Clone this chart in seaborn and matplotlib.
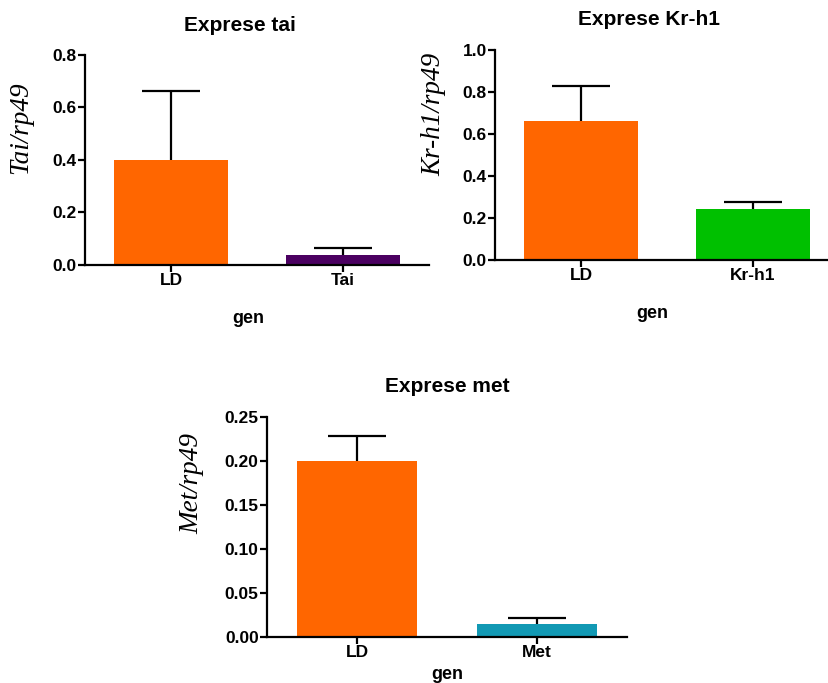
import matplotlib
matplotlib.use("Agg")
import matplotlib.pyplot as plt
import seaborn as sns
import pandas as pd
import numpy as np

# Data
tai_genes = ["LD", "Tai"]
tai_means = [0.40, 0.038]
tai_err = [0.262, 0.027]

kr_genes = ["LD", "Kr-h1"]
kr_means = [0.663, 0.243]
kr_err = [0.167, 0.035]

met_genes = ["LD", "Met"]
met_means = [0.200, 0.0142]
met_err = [0.029, 0.0068]

sns.set_theme(style="ticks")
plt.rcParams['font.family'] = ['Liberation Sans', 'DejaVu Sans']
plt.rcParams['text.color'] = 'black'

W, H = 829, 683
fig = plt.figure(figsize=(W / 100, H / 100), dpi=100)

def px_axes(left, right, bottom, top):
    return fig.add_axes([left / W, 1 - bottom / H, (right - left) / W, (bottom - top) / H])

panels = [
    dict(rect=(85, 429, 265, 55), genes=tai_genes, means=tai_means, err=tai_err,
         colors=["#FF6600", "#4B0061"], title="Exprese tai", ylabel="Tai/rp49",
         ylim=(0, 0.8), yticks=[0.0, 0.2, 0.4, 0.6, 0.8], fmt="{:.1f}",
         title_xy=(0.45, 1.114), xlab_xy=(0.474, -0.213), ylab_xy=(-0.150, 0.652)),
    dict(rect=(495, 839, 260, 50), genes=kr_genes, means=kr_means, err=kr_err,
         colors=["#FF6600", "#00C000"], title="Exprese Kr-h1", ylabel="Kr-h1/rp49",
         ylim=(0, 1.0), yticks=[0.0, 0.2, 0.4, 0.6, 0.8, 1.0], fmt="{:.1f}",
         title_xy=(0.448, 1.119), xlab_xy=(0.456, -0.213), ylab_xy=(-0.142, 0.695)),
    dict(rect=(267, 627, 636.7, 417.3), genes=met_genes, means=met_means, err=met_err,
         colors=["#FF6600", "#1299B4"], title="Exprese met", ylabel="Met/rp49",
         ylim=(0, 0.25), yticks=[0.0, 0.05, 0.10, 0.15, 0.20, 0.25], fmt="{:.2f}",
         title_xy=(0.5, 1.114), xlab_xy=(0.5, -0.135), ylab_xy=(-0.175, 0.697)),
]

for p in panels:
    l, r, b, t = p["rect"]
    ax = px_axes(l, r, b, t)
    df = pd.DataFrame({"gen": p["genes"], "val": p["means"]})
    sns.barplot(data=df, x="gen", y="val", hue="gen", palette=p["colors"],
                width=0.665, errorbar=None, legend=False, ax=ax, saturation=1,
                edgecolor="none")
    x = np.arange(len(p["genes"]))
    _, caps, _ = ax.errorbar(x, p["means"], yerr=[np.zeros(len(x)), p["err"]],
                             fmt="none", ecolor="black", elinewidth=1.6,
                             capsize=21, capthick=1.6)
    caps[0].set_visible(False)
    ax.set_xlim(-0.5, 1.5)
    ax.set_ylim(*p["ylim"])
    ax.set_yticks(p["yticks"])
    ax.set_yticklabels([p["fmt"].format(v) for v in p["yticks"]],
                       fontsize=12.5, fontweight="bold")
    ax.set_xticks(x)
    ax.set_xticklabels(p["genes"], fontsize=12.5, fontweight="bold")
    for s in ["top", "right"]:
        ax.spines[s].set_visible(False)
    for s in ["left", "bottom"]:
        ax.spines[s].set_linewidth(1.6)
        ax.spines[s].set_color("black")
    ax.tick_params(axis="both", width=1.6, length=5, color="black", pad=1,
                   labelcolor="black")
    ax.set_title(p["title"], fontsize=15, fontweight="bold", color="black",
                 x=p["title_xy"][0], y=p["title_xy"][1], pad=0)
    ax.set_xlabel("gen", fontsize=13, fontweight="bold", color="black")
    ax.xaxis.set_label_coords(*p["xlab_xy"])
    ax.set_ylabel(p["ylabel"], fontsize=19.5, fontstyle="italic", color="black",
                  family=["Liberation Serif", "DejaVu Serif"])
    ax.yaxis.set_label_coords(*p["ylab_xy"])
    ax.set_facecolor("white")

fig.savefig("out.png", dpi=100, facecolor="white")
